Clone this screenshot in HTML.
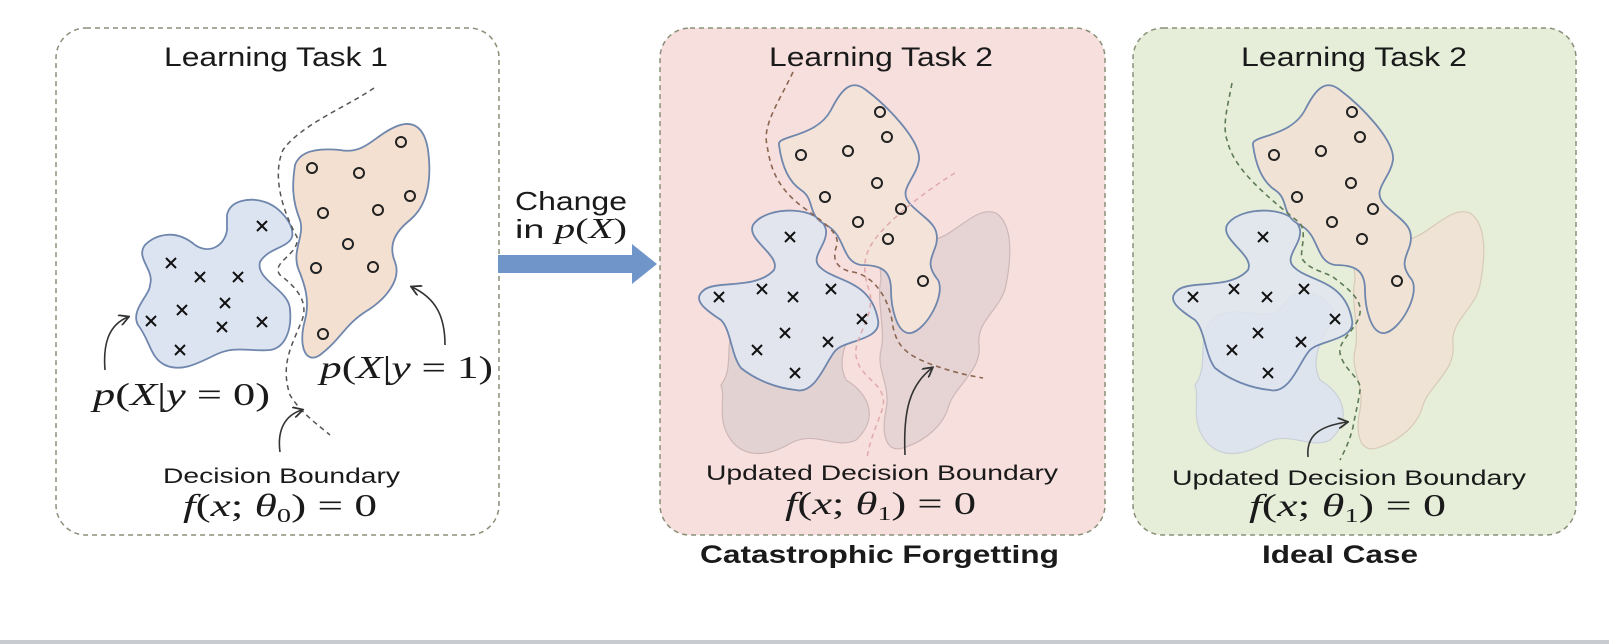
<!DOCTYPE html>
<html><head><meta charset="utf-8"><style>
html,body{margin:0;padding:0;background:#fff;}
svg{display:block;}
.t{font-family:"Liberation Sans",sans-serif;fill:#1a1a1a;}
.m{font-family:"Liberation Serif",serif;fill:#1a1a1a;}
</style></head><body>
<svg width="1609" height="644" viewBox="0 0 1609 644" xmlns="http://www.w3.org/2000/svg">
<defs>
<path id="blue" d="M1227,225 C1240,205 1295,205 1300,230 C1302,245 1282,258 1295,268 C1310,282 1345,280 1352,320 C1356,340 1320,340 1310,350 C1300,360 1290,395 1270,390 C1250,388 1230,380 1215,368 C1205,355 1205,330 1195,320 C1180,310 1165,300 1178,290 C1190,280 1230,290 1248,270 C1255,255 1220,240 1227,225 Z"/>
<path id="orange" d="M1253,145 C1250,135 1290,138 1305,110 C1315,90 1325,78 1340,90 C1360,105 1395,140 1393,160 C1390,180 1370,190 1385,205 C1400,220 1415,225 1410,245 C1405,260 1400,265 1412,280 C1420,295 1400,330 1385,333 C1370,335 1365,305 1365,290 C1365,270 1355,265 1335,265 C1315,262 1320,235 1300,225 C1280,215 1290,200 1275,190 C1260,180 1255,160 1253,145 Z"/>
<path id="fb" d="M1213,318 C1240,300 1270,330 1287,300 C1300,285 1330,295 1335,315 C1320,340 1310,360 1320,380 C1345,395 1352,420 1330,440 C1310,450 1290,430 1265,443 C1245,455 1220,460 1205,440 C1190,420 1200,400 1195,385 C1210,365 1195,340 1213,318 Z"/>
<path id="fo" d="M1353,247 C1365,235 1390,242 1407,240 C1430,235 1450,205 1470,213 C1488,225 1485,260 1480,285 C1475,310 1450,320 1453,345 C1456,370 1430,385 1423,405 C1418,425 1400,440 1380,447 C1360,455 1355,435 1360,410 C1365,385 1350,370 1355,350 C1360,330 1350,300 1355,280 Z"/>
<path id="xm" d="M-5,-5 L5,5 M5,-5 L-5,5" stroke="#111" stroke-width="2" fill="none"/>
<marker id="ah" viewBox="0 0 10 10" refX="8" refY="5" markerWidth="7" markerHeight="7" orient="auto"><path d="M0,0 L9,5 L0,10" fill="none" stroke="#333" stroke-width="1.6"/></marker>
</defs>

<rect x="56" y="28" width="443" height="507" rx="30" fill="#fff" stroke="#8a8f78" stroke-width="1.5" stroke-dasharray="5,4"/>
<rect x="660" y="28" width="445" height="507" rx="30" fill="#f7dfdd" stroke="#8a8f78" stroke-width="1.5" stroke-dasharray="5,4"/>
<rect x="1133" y="28" width="443" height="507" rx="30" fill="#e6eed9" stroke="#8a8f78" stroke-width="1.5" stroke-dasharray="5,4"/>

<path d="M227,215 C230,200 250,197 265,202 C280,207 295,225 292,237 C288,248 268,248 260,262 C255,280 290,290 290,310 C292,330 285,348 270,350 C250,352 235,345 215,355 C195,365 180,372 165,365 C150,358 150,340 138,325 C130,310 150,295 150,285 C155,270 135,258 145,245 C155,235 175,228 195,245 C210,255 225,245 227,230 Z" fill="#dde4f1" stroke="#6f86ad" stroke-width="1.8"/>
<path d="M295,165 C300,150 320,148 340,150 C365,155 375,135 395,127 C415,118 425,130 428,150 C432,180 428,205 410,220 C395,232 388,245 395,262 C402,280 385,300 365,312 C345,325 340,340 320,355 C305,365 298,345 305,320 C310,300 305,285 298,268 C292,250 305,235 300,220 C292,200 292,185 295,165 Z" fill="#f3e0d0" stroke="#6f86ad" stroke-width="1.8"/>
<path d="M374,88 C350,105 300,125 283,150 C272,175 282,210 297,237 C300,255 270,262 280,275 C300,290 310,305 300,325 C292,345 280,365 290,395 C300,412 318,425 330,435" fill="none" stroke="#555" stroke-width="1.5" stroke-dasharray="5,4"/>

<g transform="translate(-474,0)">
<use href="#fb" fill="#e3d2d2" stroke="#cdb7b7" stroke-width="1.2"/>
<use href="#fo" fill="#e6d4d4" stroke="#cdb7b7" stroke-width="1.2"/>
<use href="#blue" fill="#e2e4ee" stroke="#6f86ad" stroke-width="1.8"/>
<use href="#orange" fill="#f3e3d8" stroke="#6f86ad" stroke-width="1.8"/>
</g>
<path d="M955,173 C935,185 900,210 880,233 C865,250 860,265 870,293 C875,320 850,340 857,360 C862,380 890,385 882,410 C875,430 868,445 867,460" fill="none" stroke="#e0aaaa" stroke-width="1.5" stroke-dasharray="5,4"/>
<path d="M793,72 C780,100 762,125 767,145 C770,165 775,185 800,205 C820,220 840,232 837,245 C830,262 840,270 853,272 C875,276 890,300 893,327 C897,345 905,355 933,365 C950,371 965,375 983,378" fill="none" stroke="#8b6650" stroke-width="1.6" stroke-dasharray="5,4"/>

<use href="#fb" fill="#dde4ee" stroke="#c9d0d8" stroke-width="1.2"/>
<use href="#fo" fill="#efe3d5" stroke="#d8cab8" stroke-width="1.2"/>
<use href="#blue" fill="#dfe5ef" fill-opacity="0.85" stroke="#6f86ad" stroke-width="1.8"/>
<use href="#orange" fill="#f0e2d4" stroke="#6f86ad" stroke-width="1.8"/>
<path d="M1232,83 C1228,105 1222,125 1227,140 C1232,160 1245,180 1300,223 C1308,235 1298,255 1303,260 C1310,270 1325,272 1333,277 C1350,290 1362,300 1360,313 C1357,330 1338,340 1340,353 C1343,370 1362,378 1360,390 C1358,405 1355,415 1353,427 C1350,440 1345,450 1340,460" fill="none" stroke="#5e7a55" stroke-width="1.6" stroke-dasharray="5,4"/>

<g>
<use href="#xm" x="262" y="226"/><use href="#xm" x="171" y="263"/><use href="#xm" x="200" y="277"/><use href="#xm" x="238" y="277"/><use href="#xm" x="225" y="303"/><use href="#xm" x="182" y="310"/><use href="#xm" x="151" y="321"/><use href="#xm" x="222" y="327"/><use href="#xm" x="262" y="322"/><use href="#xm" x="180" y="350"/>
<use href="#xm" x="790" y="237"/><use href="#xm" x="719" y="297"/><use href="#xm" x="762" y="289"/><use href="#xm" x="793" y="297"/><use href="#xm" x="831" y="289"/><use href="#xm" x="862" y="319"/><use href="#xm" x="785" y="333"/><use href="#xm" x="757" y="350"/><use href="#xm" x="828" y="342"/><use href="#xm" x="795" y="373"/>
<use href="#xm" x="1263" y="237"/><use href="#xm" x="1193" y="297"/><use href="#xm" x="1234" y="289"/><use href="#xm" x="1267" y="297"/><use href="#xm" x="1304" y="289"/><use href="#xm" x="1335" y="319"/><use href="#xm" x="1258" y="333"/><use href="#xm" x="1232" y="350"/><use href="#xm" x="1301" y="342"/><use href="#xm" x="1268" y="373"/>
</g>
<g fill="none" stroke="#222" stroke-width="2">
<circle cx="401" cy="142" r="5"/><circle cx="312" cy="168" r="5"/><circle cx="359" cy="173" r="5"/><circle cx="410" cy="196" r="5"/><circle cx="323" cy="213" r="5"/><circle cx="378" cy="210" r="5"/><circle cx="348" cy="244" r="5"/><circle cx="316" cy="268" r="5"/><circle cx="373" cy="267" r="5"/><circle cx="323" cy="334" r="5"/>
<circle cx="880" cy="112" r="5"/><circle cx="887" cy="137" r="5"/><circle cx="801" cy="155" r="5"/><circle cx="848" cy="151" r="5"/><circle cx="877" cy="183" r="5"/><circle cx="825" cy="197" r="5"/><circle cx="901" cy="209" r="5"/><circle cx="858" cy="222" r="5"/><circle cx="888" cy="239" r="5"/><circle cx="923" cy="281" r="5"/>
<circle cx="1352" cy="112" r="5"/><circle cx="1360" cy="137" r="5"/><circle cx="1274" cy="155" r="5"/><circle cx="1321" cy="151" r="5"/><circle cx="1351" cy="183" r="5"/><circle cx="1297" cy="197" r="5"/><circle cx="1373" cy="209" r="5"/><circle cx="1332" cy="222" r="5"/><circle cx="1362" cy="239" r="5"/><circle cx="1397" cy="281" r="5"/>
</g>

<g fill="none" stroke="#333" stroke-width="1.6" marker-end="url(#ah)">
<path d="M105,370 C103,345 108,325 128,317"/>
<path d="M445,345 C445,315 435,298 412,287"/>
<path d="M280,452 C277,430 285,415 302,410"/>
<path d="M905,455 C903,410 910,385 932,368"/>
<path d="M1308,457 C1306,435 1320,426 1347,422"/>
</g>

<path d="M498,255 L632,255 L632,244 L657,264 L632,284 L632,273 L498,273 Z" fill="#7096c9"/>

<text class="t" x="164" y="66" font-size="27" textLength="224" lengthAdjust="spacingAndGlyphs">Learning Task 1</text>
<text class="t" x="769" y="66" font-size="27" textLength="224" lengthAdjust="spacingAndGlyphs">Learning Task 2</text>
<text class="t" x="1241" y="66" font-size="27" textLength="226" lengthAdjust="spacingAndGlyphs">Learning Task 2</text>
<text class="t" x="515" y="210" font-size="26" textLength="112" lengthAdjust="spacingAndGlyphs">Change</text>
<text class="t" x="515" y="238" font-size="26" textLength="112" lengthAdjust="spacingAndGlyphs">in <tspan class="m" font-style="italic" font-size="28">p</tspan><tspan class="m" font-size="28">(</tspan><tspan class="m" font-style="italic" font-size="28">X</tspan><tspan class="m" font-size="28">)</tspan></text>
<text class="m" x="93" y="405" font-size="32" textLength="177" lengthAdjust="spacingAndGlyphs"><tspan font-style="italic">p</tspan>(<tspan font-style="italic">X</tspan>|<tspan font-style="italic">y</tspan> = 0)</text>
<text class="m" x="320" y="378" font-size="32" textLength="173" lengthAdjust="spacingAndGlyphs"><tspan font-style="italic">p</tspan>(<tspan font-style="italic">X</tspan>|<tspan font-style="italic">y</tspan> = 1)</text>
<text class="t" x="163" y="483" font-size="21" textLength="237" lengthAdjust="spacingAndGlyphs">Decision Boundary</text>
<text class="t" x="706" y="480" font-size="21" textLength="352" lengthAdjust="spacingAndGlyphs">Updated Decision Boundary</text>
<text class="t" x="1172" y="485" font-size="21" textLength="354" lengthAdjust="spacingAndGlyphs">Updated Decision Boundary</text>
<text class="m" x="183" y="516" font-size="32" textLength="194" lengthAdjust="spacingAndGlyphs"><tspan font-style="italic">f</tspan>(<tspan font-style="italic">x</tspan>; <tspan font-style="italic">θ</tspan><tspan font-size="20" dy="6">0</tspan><tspan dy="-6">) = 0</tspan></text>
<text class="m" x="785" y="514" font-size="32" textLength="191" lengthAdjust="spacingAndGlyphs"><tspan font-style="italic">f</tspan>(<tspan font-style="italic">x</tspan>; <tspan font-style="italic">θ</tspan><tspan font-size="20" dy="6">1</tspan><tspan dy="-6">) = 0</tspan></text>
<text class="m" x="1249" y="516" font-size="32" textLength="197" lengthAdjust="spacingAndGlyphs"><tspan font-style="italic">f</tspan>(<tspan font-style="italic">x</tspan>; <tspan font-style="italic">θ</tspan><tspan font-size="20" dy="6">1</tspan><tspan dy="-6">) = 0</tspan></text>
<text class="t" x="700" y="563" font-size="25" font-weight="bold" textLength="359" lengthAdjust="spacingAndGlyphs" fill="#111">Catastrophic Forgetting</text>
<text class="t" x="1262" y="563" font-size="25" font-weight="bold" textLength="156" lengthAdjust="spacingAndGlyphs" fill="#111">Ideal Case</text>

<rect x="0" y="640" width="1609" height="4" fill="#c8cbd0"/>
</svg>
</body></html>
